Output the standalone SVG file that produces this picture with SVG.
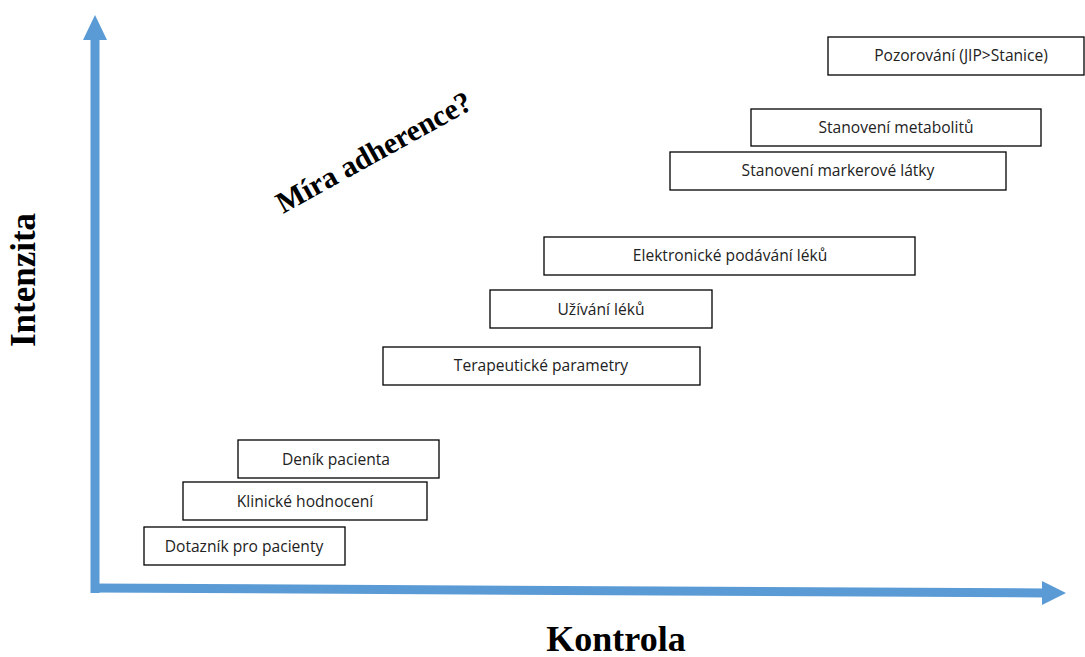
<svg xmlns="http://www.w3.org/2000/svg" width="1085" height="657" viewBox="0 0 1085 657">
<style>
.box rect{fill:#fff;stroke:#000;stroke-width:1.3}
.box text{font-family:"Open Sans","DejaVu Sans",sans-serif;font-size:15.6px;fill:#222;text-anchor:middle}
.big{font-family:"Liberation Serif","Times New Roman",serif;font-weight:bold;fill:#000}
.axis{stroke:#5B9BD5;stroke-width:9;fill:none}
.head{fill:#5B9BD5}
</style>
<rect width="1085" height="657" fill="#fff"/>
<g id="axes">
<path class="axis" d="M95,593 L95,38"/>
<path class="axis" d="M91,588 L1044,593"/>
<polygon class="head" points="83,40 107,40 95,15"/>
<polygon class="head" points="1042,581 1042,605 1066,593"/>
</g>
<g id="n1" class="box"><rect x="828" y="37" width="256" height="38"/><text x="961" y="61">Pozorování (JIP&gt;Stanice)</text></g>
<g id="n2" class="box"><rect x="751" y="109" width="290" height="37"/><text x="896" y="133">Stanovení metabolitů</text></g>
<g id="n3" class="box"><rect x="670" y="152" width="336" height="38"/><text x="838" y="176">Stanovení markerové látky</text></g>
<g id="n4" class="box"><rect x="544" y="237" width="371" height="38"/><text x="730" y="261">Elektronické podávání léků</text></g>
<g id="n5" class="box"><rect x="490" y="290" width="222" height="38"/><text x="601" y="315">Užívání léků</text></g>
<g id="n6" class="box"><rect x="383" y="347" width="317" height="38"/><text x="541" y="371">Terapeutické parametry</text></g>
<g id="n7" class="box"><rect x="238" y="440" width="201" height="38"/><text x="336" y="465">Deník pacienta</text></g>
<g id="n8" class="box"><rect x="183" y="482" width="244" height="38"/><text x="305" y="507">Klinické hodnocení</text></g>
<g id="n9" class="box"><rect x="144" y="527" width="201" height="38"/><text x="244" y="552">Dotazník pro pacienty</text></g>
<text class="big" font-size="30" x="283" y="214" transform="rotate(-29 283 214)">Míra adherence?</text>
<text class="big" font-size="35" text-anchor="middle" transform="translate(35,280) rotate(-90)">Intenzita</text>
<text class="big" font-size="36" text-anchor="middle" x="616" y="651">Kontrola</text>
</svg>
